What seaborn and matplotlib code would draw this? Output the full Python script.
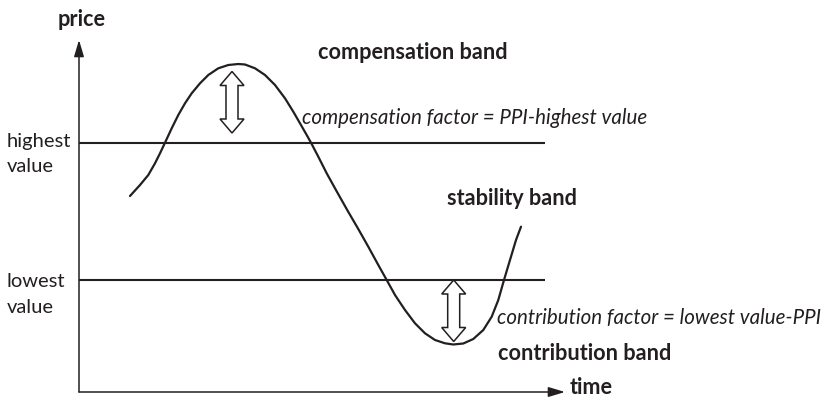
import matplotlib
matplotlib.use("Agg")
import matplotlib.pyplot as plt
from matplotlib.patches import Polygon
import seaborn as sns

# Price curve (time and price in the same arbitrary units)
time = [51.0, 61.0, 69.3, 76.0, 81.0, 86.0, 92.7, 99.3, 106.0, 112.7, 121.0,
        129.3, 139.3, 149.3, 159.3, 166.0, 176.0, 186.0, 196.0, 206.0, 214.3,
        221.0, 227.7, 232.0, 239.3, 247.7, 257.5, 268.5, 279.0, 289.3, 299.3,
        307.7, 316.0, 326.0, 336.0, 346.0, 356.0, 366.0, 374.3, 384.3, 394.3,
        404.3, 412.7, 419.3, 425.0, 431.0, 437.0, 442.0]
price = [196.0, 207.0, 217.0, 228.7, 238.7, 249.3, 263.7, 277.0, 288.7, 298.7, 308.7,
         317.0, 323.7, 327.0, 328.0, 327.5, 323.7, 317.0, 307.0, 293.7, 280.3,
         268.7, 257.0, 249.3, 235.3, 218.7, 201.0, 181.5, 163.5, 145.3, 127.0,
         112.0, 97.0, 82.0, 68.7, 58.7, 52.0, 48.7, 47.5, 48.5, 53.0,
         62.0, 75.3, 92.0, 112.0, 132.0, 152.0, 165.3]

highest_value = 249.0
lowest_value = 112.0
band_end = 466.0

# Where the two factor arrows stand (time of peak and of trough)
peak_time = 153.0
trough_time = 374.7

INK = "#231f20"


def double_arrow(ax, x, y_top, y_bot, head_w=12, shaft_w=6, head_len=14):
    """Hollow double-headed arrow, as in the original drawing."""
    pts = [
        (x, y_top),
        (x + head_w, y_top - head_len),
        (x + shaft_w, y_top - head_len),
        (x + shaft_w, y_bot + head_len),
        (x + head_w, y_bot + head_len),
        (x, y_bot),
        (x - head_w, y_bot + head_len),
        (x - shaft_w, y_bot + head_len),
        (x - shaft_w, y_top - head_len),
        (x - head_w, y_top - head_len),
    ]
    ax.add_patch(Polygon(pts, closed=True, facecolor="white", edgecolor=INK,
                         lw=1.1, joinstyle="miter", zorder=4))


sns.set_style("white")
plt.rcParams["font.family"] = ["Lato", "DejaVu Sans"]

fig = plt.figure(figsize=(8.24, 3.98), dpi=100)
ax = fig.add_axes([79 / 824, 6 / 398, 486 / 824, 352 / 398])
ax.set_xlim(0, 486)
ax.set_ylim(0, 352)
ax.axis("off")

# axes with arrow heads
arrow_kw = dict(arrowstyle="-|>,head_length=1.0,head_width=0.3", color=INK,
                lw=1.1, shrinkA=0, shrinkB=0, mutation_scale=10)
ax.annotate("", xy=(0, 352), xytext=(0, 0), xycoords="data",
            arrowprops=arrow_kw, annotation_clip=False)
ax.annotate("", xy=(486, 0), xytext=(0, 0), xycoords="data",
            arrowprops=arrow_kw, annotation_clip=False)

# highest / lowest value lines
ax.hlines([highest_value, lowest_value], 0, band_end, color=INK, lw=1.5)

# the price curve
sns.lineplot(x=time, y=price, ax=ax, color=INK, lw=1.6, sort=False,
             estimator=None)

# factor arrows
double_arrow(ax, peak_time, max(price) - 7.5, highest_value + 10)
double_arrow(ax, trough_time, lowest_value, min(price) + 3)

fs = 14.5
fs_ital = 14.8
fs_bold = 15.6
txt = dict(color=INK, clip_on=False)
ax.text(3, 372, "price", ha="center", va="center", fontweight="bold",
        fontsize=fs_bold, **txt)
ax.text(491, -2, "time", ha="left", va="baseline", fontweight="bold",
        fontsize=fs_bold, **txt)

ax.text(-72, 392 - 146.7, "highest", ha="left", va="baseline", fontsize=fs, **txt)
ax.text(-72, 392 - 171.7, "value", ha="left", va="baseline", fontsize=fs, **txt)
ax.text(-72, 392 - 287.3, "lowest", ha="left", va="baseline", fontsize=fs, **txt)
ax.text(-72, 392 - 312.7, "value", ha="left", va="baseline", fontsize=fs, **txt)

ax.text(239, 392 - 59.3, "compensation band", ha="left", va="baseline",
        fontweight="bold", fontsize=fs_bold, **txt)
ax.text(223, 392 - 124.3, "compensation factor = PPI-highest value",
        ha="left", va="baseline", style="italic", fontsize=fs_ital, **txt)
ax.text(367.7, 392 - 205, "stability band", ha="left", va="baseline",
        fontweight="bold", fontsize=fs_bold, **txt)
ax.text(417.7, 392 - 324, "contribution factor = lowest value-PPI",
        ha="left", va="baseline", style="italic", fontsize=fs_ital, **txt)
ax.text(418.7, 392 - 360, "contribution band", ha="left", va="baseline",
        fontweight="bold", fontsize=fs_bold, **txt)

fig.savefig("out.png", dpi=100, facecolor="white")
